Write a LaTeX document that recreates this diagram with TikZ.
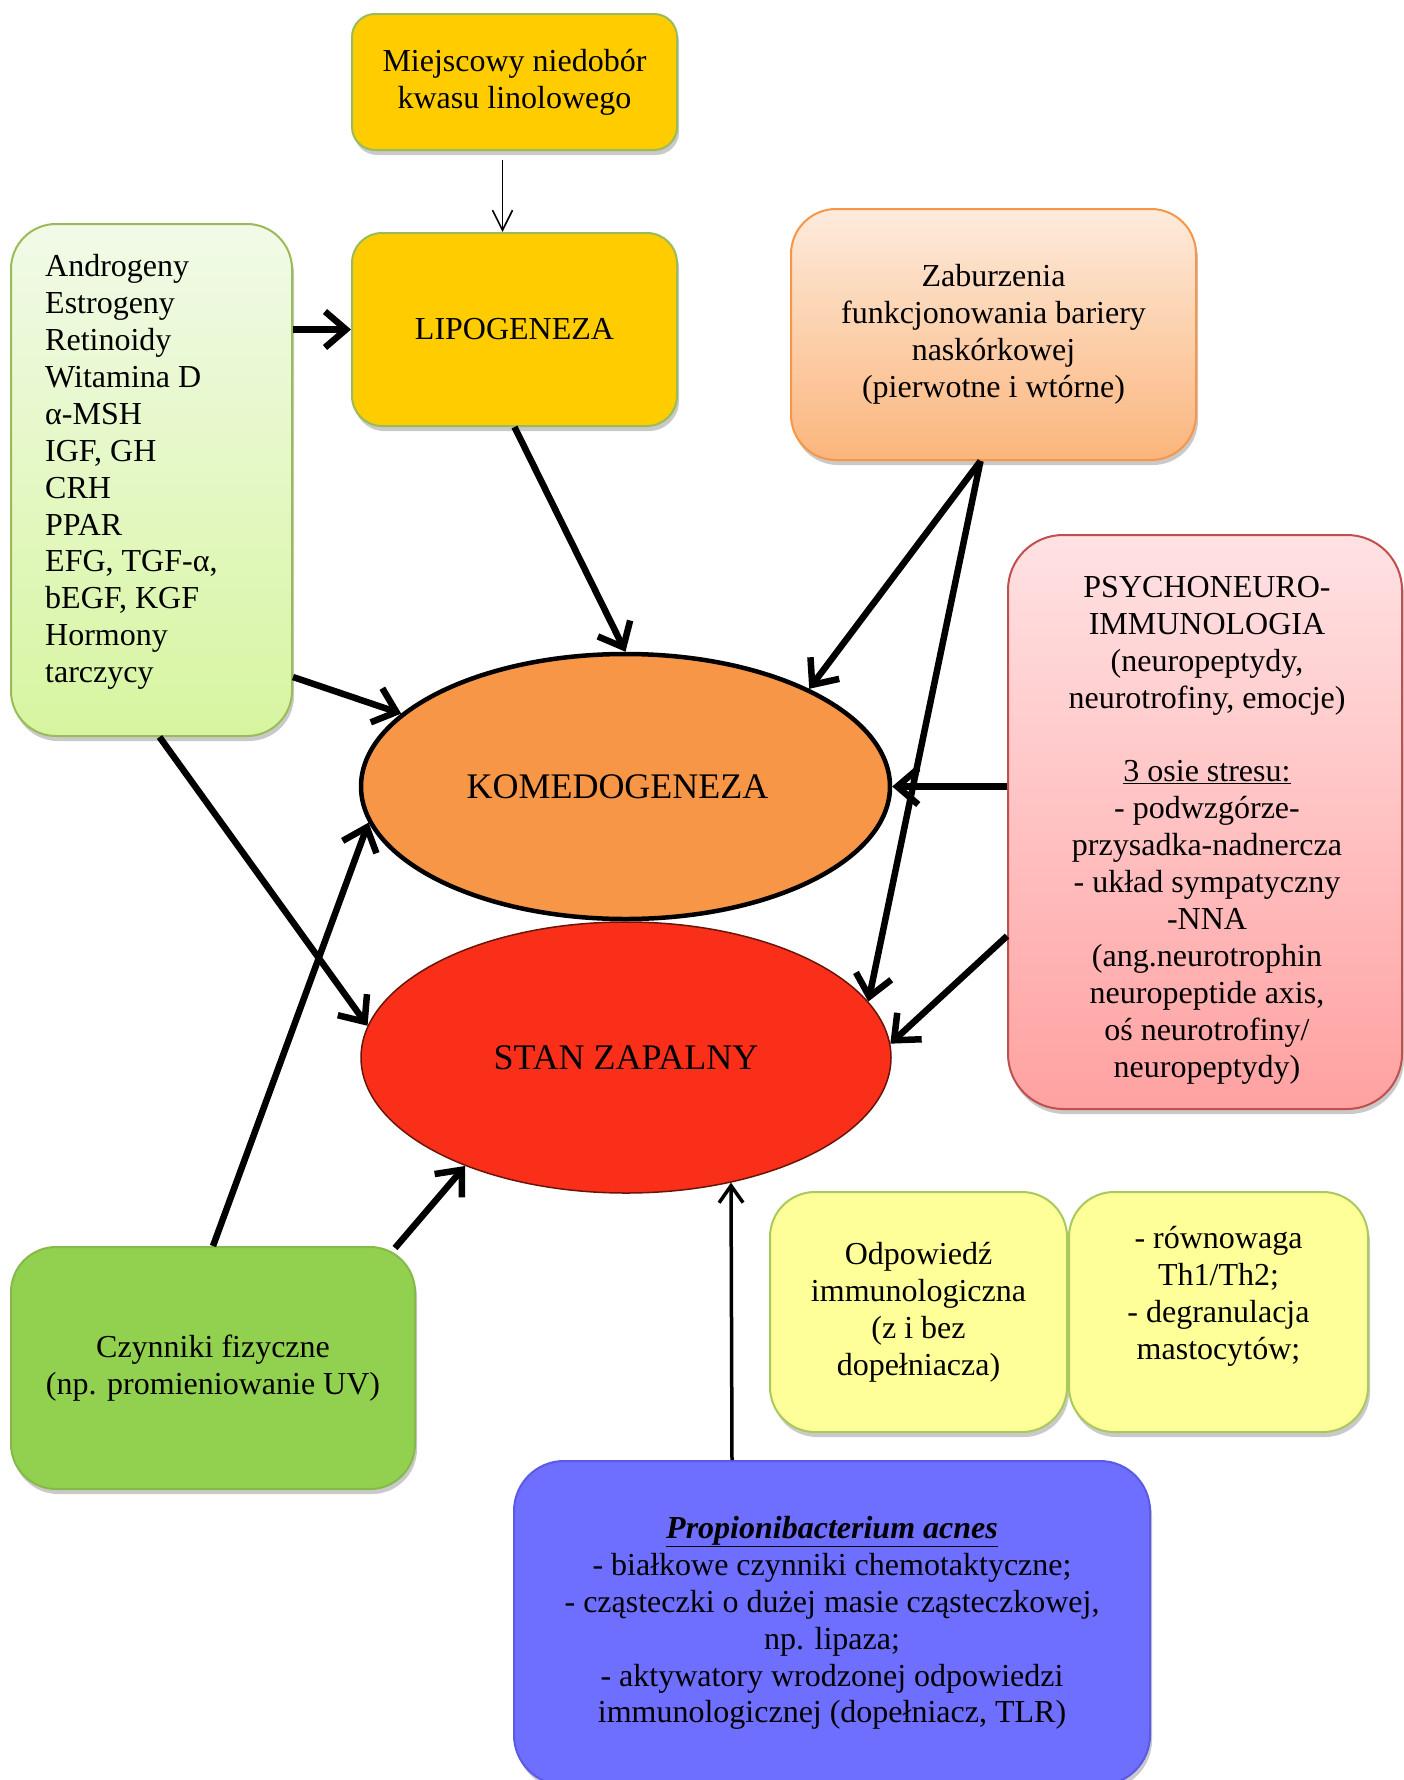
\documentclass[tikz,border=0pt]{standalone}
\usepackage{fontspec}
\setmainfont{Liberation Serif}
\usetikzlibrary{shapes.geometric,arrows.meta,calc,shadows}
\definecolor{cgold}{HTML}{FFCC00}
\definecolor{olgreen}{HTML}{9BBB59}
\definecolor{andrtop}{HTML}{F1FAE8}
\definecolor{andrbot}{HTML}{D7F5A0}
\definecolor{zabtop}{HTML}{FDEBDC}
\definecolor{zabbot}{HTML}{FBB57C}
\definecolor{zabdraw}{HTML}{F79646}
\definecolor{psytop}{HTML}{FFE2E3}
\definecolor{psybot}{HTML}{FFA1A1}
\definecolor{psydraw}{HTML}{C0504D}
\definecolor{komor}{HTML}{F79646}
\definecolor{stanred}{HTML}{F92F19}
\definecolor{standraw}{HTML}{6B1508}
\definecolor{ltyellow}{HTML}{FFFF99}
\definecolor{ylwdraw}{HTML}{A9C95C}
\definecolor{czygreen}{HTML}{92D050}
\definecolor{czydraw}{HTML}{86B94A}
\definecolor{propblue}{HTML}{6E6EFF}
\definecolor{propdraw}{HTML}{5A5AE6}
\newcommand{\bxfont}{\fontsize{32}{36.9}\selectfont}
\begin{document}
\begin{tikzpicture}[x=1pt,y=-1pt,
  bx/.style={rounded corners=#1, line width=2pt, inner sep=0pt, align=center, font=\bxfont,
    drop shadow={shadow xshift=2pt, shadow yshift=-5pt, opacity=0.35, fill=black!60}},
  txt/.style={inner sep=0pt, font=\bxfont},
  bigarrow/.style={line width=6.5pt, -{Straight Barb[length=21pt,width=36pt]}},
  smallarrow/.style={line width=1.6pt, -{Straight Barb[length=20pt,width=20pt]}},
  midarrow/.style={line width=3.5pt, -{Straight Barb[length=17pt,width=24pt]}},
  ell/.style={ellipse, inner sep=0pt, font=\fontsize{36}{40}\selectfont}
]
\useasboundingbox[fill=white] (0,0) rectangle (1403,1780);

% boxes
\node[bx=23, fill=cgold, draw=olgreen, minimum width=325pt, minimum height=136pt] (miej) at (514.5,82) {Miejscowy niedobór\\kwasu linolowego};
\node[bx=30, fill=cgold, draw=olgreen, minimum width=325pt, minimum height=193pt] (lipo) at (514.5,329.5) {LIPOGENEZA};

\node[bx=45, top color=andrtop, bottom color=andrbot, draw=olgreen, minimum width=281pt, minimum height=512pt] (andr) at (151.5,480) {};
\node[txt, align=left, anchor=west] (andrtxt) at (45,472) {Androgeny\\Estrogeny\\Retinoidy\\Witamina D\\α-MSH\\IGF, GH\\CRH\\PPAR\\EFG, TGF-α,\\bEGF, KGF\\Hormony\\tarczycy};

\node[bx=45, top color=zabtop, bottom color=zabbot, draw=zabdraw, minimum width=405pt, minimum height=251pt] (zab) at (993.5,334.5) {Zaburzenia\\funkcjonowania bariery\\naskórkowej\\(pierwotne i wtórne)};

\node[bx=55, top color=psytop, bottom color=psybot, draw=psydraw, minimum width=394pt, minimum height=574pt] (psy) at (1205,822) {};
\node[txt, align=center] (psytxt) at (1207,830) {PSYCHONEURO-\\IMMUNOLOGIA\\(neuropeptydy,\\neurotrofiny, emocje)\\[36.9pt]\underline{3 osie stresu:}\\- podwzgórze-\\przysadka-nadnercza\\- układ sympatyczny\\-NNA\\(ang.neurotrophin\\neuropeptide axis,\\oś neurotrofiny/\\neuropeptydy)};

\node[bx=45, fill=ltyellow, draw=ylwdraw, minimum width=297pt, minimum height=240pt] (odp) at (918.5,1312) {Odpowiedź\\immunologiczna\\(z i bez\\dopełniacza)};
\node[bx=45, fill=ltyellow, draw=ylwdraw, minimum width=299pt, minimum height=240pt] (row) at (1218.5,1312) {};
\node[txt, align=center] (rowtxt) at (1218.5,1296) {- równowaga\\Th1/Th2;\\- degranulacja\\mastocytów;};

\node[bx=45, fill=czygreen, draw=czydraw, minimum width=404pt, minimum height=242pt] (czy) at (213,1368) {Czynniki fizyczne\\(np. promieniowanie UV)};

\node[bx=50, fill=propblue, draw=propdraw, minimum width=636pt, minimum height=324pt] (prop) at (832,1623) {\underline{\textbf{\textit{Propionibacterium acnes}}}\\- białkowe czynniki chemotaktyczne;\\- cząsteczki o dużej masie cząsteczkowej,\\np. lipaza;\\- aktywatory wrodzonej odpowiedzi\\immunologicznej (dopełniacz, TLR)};

% ellipses
\node[ell, draw=black, line width=4.5pt, fill=komor, minimum width=529pt, minimum height=265pt] (kom) at (625.5,786.5) {\hspace*{-16pt}KOMEDOGENEZA};
\node[ell, draw=standraw, line width=1.5pt, fill=stanred, minimum width=530pt, minimum height=271pt] (stan) at (626,1057.5) {STAN ZAPALNY};

% connectors
\draw[smallarrow] ($(miej.south)+(-12,9)$) -- ($(lipo.north)+(-12,0)$);
\draw[bigarrow] (andr.east |- lipo.west) -- (lipo.west);
\draw[bigarrow] (lipo.south) -- (kom.north);
\coordinate (zs) at ($(zab.south)+(-13,0)$);
\draw[bigarrow] (zs) -- (kom.28);
\draw[bigarrow] (zs) -- (stan.13);
\draw[bigarrow] (psy.west |- kom.east) -- (kom.east);
\draw[bigarrow] ($(psy.west)+(0,114)$) -- (stan.3);
\draw[bigarrow] ($(andr.east)+(0,197)$) -- (kom.162);
\draw[bigarrow] ($(andr.south)+(8,0)$) -- (stan.173);
\draw[bigarrow] (czy.north) -- (kom.188);
\draw[bigarrow] ($(czy.north east)+(-21,2)$) -- (stan.214);
\draw[midarrow] ($(prop.north)+(-100,0)$) -- (stan.310);
\end{tikzpicture}
\end{document}
